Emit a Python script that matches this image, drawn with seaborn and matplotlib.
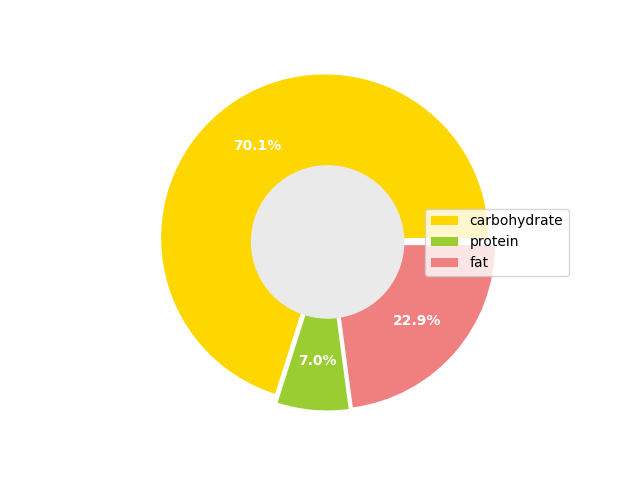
import matplotlib
matplotlib.use("Agg")
import matplotlib.pyplot as plt
import seaborn as sns

labels = ["carbohydrate", "protein", "fat"]
shares = [70.1, 7.0, 22.9]
colors = ["gold", "yellowgreen", "lightcoral"]
explode = [0.03, 0.03, 0.03]

sns.set_palette(colors)

fig, ax = plt.subplots(figsize=(6.4, 4.8), dpi=100)
wedges, texts, autotexts = ax.pie(
    shares,
    explode=explode,
    autopct="%1.1f%%",
    pctdistance=0.7,
    textprops={"color": "white", "weight": "bold", "fontsize": 10},
)
ax.add_artist(plt.Circle((0, 0), 0.465, color="#eaeaea"))
ax.axis("equal")

fig.legend(
    wedges,
    labels,
    loc="center left",
    bbox_to_anchor=(425 / 640, 0.495),
    bbox_transform=fig.transFigure,
    borderaxespad=0,
)

plt.savefig("out.png", dpi=100)
plt.close()
